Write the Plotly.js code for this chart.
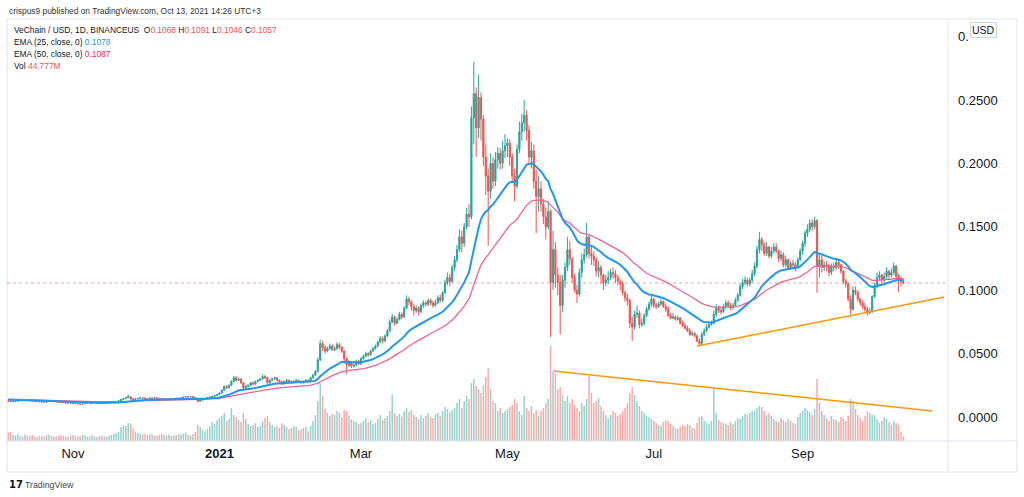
<!DOCTYPE html>
<html><head><meta charset="utf-8">
<script src="https://cdn.plot.ly/plotly-3.0.1.min.js"></script>
<style>html,body{margin:0;padding:0;background:#fff;}#chart{width:1024px;height:497px;}</style>
</head><body><div id="chart"></div>
<script>
// ---- data (VeChain / USD, 1D, daily from 2020-10-05 to 2021-10-13) ----
const startDate = '2020-10-05';
const firstOpen = 0.0126;
const close = [
 0.0124,0.0121,0.0123,0.0125,0.0128,0.0131,0.0130,0.0133,0.0131,0.0128,0.0126,0.0122,0.0123,0.0121,0.0119,0.0117,0.0121,0.0124,0.0122,0.0123,0.0120,0.0117,0.0115,0.0113,0.0110,0.0111,0.0108,
 0.0109,0.0107,0.0104,0.0102,0.0106,0.0110,0.0109,0.0108,0.0111,0.0112,0.0110,0.0109,0.0111,0.0109,0.0110,0.0113,0.0116,0.0118,0.0122,0.0128,0.0139,0.0145,0.0152,0.0160,0.0145,0.0138,0.0143,0.0147,0.0152,0.0150,
 0.0142,0.0144,0.0150,0.0148,0.0152,0.0149,0.0146,0.0141,0.0143,0.0140,0.0144,0.0146,0.0145,0.0149,0.0147,0.0151,0.0157,0.0160,0.0158,0.0161,0.0155,0.0147,0.0124,0.0133,0.0140,0.0146,0.0152,0.0158,0.0163,0.0170,0.0178,
 0.0190,0.0210,0.0240,0.0230,0.0250,0.0280,0.0310,0.0290,0.0300,0.0270,0.0230,0.0240,0.0250,0.0270,0.0260,0.0280,0.0290,0.0300,0.0320,0.0310,0.0270,0.0290,0.0300,0.0310,0.0290,0.0280,0.0260,0.0280,0.0290,0.0280,0.0270,
 0.0280,0.0290,0.0280,0.0270,0.0280,0.0290,0.0280,0.0310,0.0330,0.0360,0.0450,0.0580,0.0550,0.0520,0.0540,0.0560,0.0530,0.0540,0.0570,0.0550,0.0520,0.0460,0.0410,0.0430,0.0400,0.0410,0.0440,0.0420,
 0.0460,0.0480,0.0500,0.0490,0.0520,0.0540,0.0560,0.0590,0.0620,0.0600,0.0640,0.0680,0.0750,0.0790,0.0740,0.0770,0.0810,0.0790,0.0860,0.0930,0.0910,0.0870,0.0840,0.0860,0.0830,0.0880,0.0900,0.0890,0.0920,0.0900,0.0880,
 0.0900,0.0940,0.0920,0.0980,0.1060,0.1100,0.1070,0.1180,0.1240,0.1320,0.1420,0.1370,0.1500,0.1600,0.1580,0.2360,0.2550,0.2280,0.2520,0.2350,0.2050,0.1900,0.1780,0.2000,0.1860,0.2030,0.2080,0.2000,0.2100,0.2140,
 0.216,0.205,0.190,0.182,0.211,0.225,0.232,0.238,0.226,0.205,0.210,0.186,0.174,0.180,0.168,0.158,0.150,0.162,0.106,0.132,0.112,0.106,0.088,0.108,0.118,0.132,0.125,0.110,0.100,0.097,0.114,
 0.124,0.128,0.142,0.129,0.127,0.124,0.115,0.118,0.112,0.106,0.108,0.110,0.114,0.113,0.110,0.107,0.105,0.098,0.094,0.092,0.074,0.071,0.081,0.082,0.073,0.074,0.080,0.085,0.089,0.093,
 0.088,0.087,0.089,0.091,0.087,0.085,0.080,0.078,0.079,0.077,0.078,0.074,0.072,0.070,0.068,0.065,0.066,0.064,0.060,0.058,0.065,0.068,0.071,0.073,0.074,0.081,0.086,0.084,0.083,0.087,0.090,
 0.088,0.086,0.088,0.092,0.096,0.103,0.106,0.108,0.105,0.108,0.113,0.119,0.132,0.140,0.136,0.129,0.134,0.127,0.131,0.134,0.131,0.125,0.128,0.120,0.124,0.118,0.121,0.120,0.118,0.124,0.131,
 0.137,0.145,0.148,0.153,0.150,0.155,0.119,0.124,0.118,0.120,0.119,0.114,0.119,0.118,0.122,0.120,0.115,0.107,0.105,0.093,0.085,0.100,0.098,0.093,0.090,0.087,0.085,0.082,0.083,0.095,
 0.104,0.110,0.112,0.108,0.111,0.115,0.112,0.114,0.119,0.111,0.109,0.1068,0.1057
];
const high = [
 0.0128,0.0126,0.0125,0.0127,0.0130,0.0134,0.0133,0.0136,0.0135,0.0132,0.0129,0.0127,0.0125,0.0124,0.0122,0.0120,0.0123,0.0126,0.0125,0.0125,0.0124,0.0121,0.0118,0.0116,0.0114,0.0113,0.0112,
 0.0111,0.0111,0.0108,0.0105,0.0108,0.0112,0.0112,0.0111,0.0113,0.0115,0.0113,0.0112,0.0113,0.0112,0.0112,0.0115,0.0118,0.0121,0.0124,0.0131,0.0143,0.0150,0.0158,0.0178,0.0163,0.0148,0.0146,0.0150,0.0156,0.0155,
 0.0153,0.0147,0.0153,0.0152,0.0155,0.0154,0.0150,0.0148,0.0146,0.0145,0.0147,0.0149,0.0148,0.0151,0.0151,0.0153,0.0160,0.0166,0.0163,0.0165,0.0163,0.0158,0.0149,0.0138,0.0143,0.0149,0.0155,0.0162,0.0167,0.0175,0.0182,
 0.0195,0.0218,0.0248,0.0252,0.0258,0.0290,0.0325,0.0322,0.0310,0.0305,0.0275,0.0252,0.0258,0.0278,0.0280,0.0288,0.0298,0.0308,0.0335,0.0332,0.0318,0.0296,0.0308,0.0318,0.0315,0.0295,0.0285,0.0288,0.0298,0.0296,0.0288,
 0.0290,0.0298,0.0296,0.0288,0.0290,0.0298,0.0296,0.0318,0.0342,0.0372,0.0470,0.0610,0.0600,0.0565,0.0555,0.0580,0.0572,0.0558,0.0590,0.0585,0.0560,0.0525,0.0470,0.0450,0.0438,0.0425,0.0455,0.0450,
 0.0472,0.0495,0.0515,0.0512,0.0530,0.0552,0.0572,0.0602,0.0640,0.0635,0.0652,0.0695,0.0770,0.0815,0.0800,0.0785,0.0830,0.0825,0.0875,0.0960,0.0950,0.0920,0.0890,0.0880,0.0875,0.0895,0.0920,0.0915,0.0935,0.0935,0.0915,
 0.0925,0.0960,0.0965,0.0995,0.1080,0.1140,0.1130,0.1200,0.1270,0.1360,0.1480,0.1470,0.1530,0.1650,0.1680,0.2450,0.2800,0.2600,0.2700,0.2560,0.2380,0.2150,0.1960,0.2080,0.2050,0.2090,0.2130,0.2120,0.2180,0.2230,
 0.2200,0.2190,0.2080,0.1960,0.2150,0.2330,0.2390,0.2500,0.2420,0.2300,0.2170,0.2150,0.1950,0.1900,0.1860,0.1720,0.1650,0.1700,0.1640,0.1470,0.1380,0.1180,0.1120,0.1120,0.1220,0.1420,0.1390,0.1260,0.1130,0.1040,0.1170,
 0.1290,0.1330,0.1530,0.1440,0.1350,0.1310,0.1260,0.1230,0.1200,0.1130,0.1120,0.1150,0.1170,0.1180,0.1160,0.1120,0.1090,0.1070,0.1000,0.0970,0.0930,0.0790,0.0840,0.0880,0.0840,0.0780,0.0820,0.0870,0.0910,0.0960,
 0.0940,0.0900,0.0910,0.0930,0.0920,0.0890,0.0870,0.0820,0.0820,0.0800,0.0800,0.0790,0.0760,0.0740,0.0720,0.0700,0.0680,0.0670,0.0650,0.0620,0.0670,0.0700,0.0730,0.0750,0.0760,0.0840,0.0890,0.0880,0.0860,0.0890,0.0920,
 0.0920,0.0900,0.0900,0.0940,0.0980,0.1050,0.1090,0.1110,0.1100,0.1100,0.1160,0.1220,0.1350,0.1460,0.1420,0.1380,0.1380,0.1350,0.1340,0.1370,0.1370,0.1320,0.1310,0.1300,0.1270,0.1250,0.1230,0.1240,0.1220,0.1260,0.1330,
 0.1390,0.1470,0.1520,0.1560,0.1560,0.1580,0.1560,0.1280,0.1270,0.1230,0.1230,0.1210,0.1210,0.1220,0.1240,0.1240,0.1210,0.1160,0.1090,0.1060,0.0960,0.1030,0.1030,0.1000,0.0940,0.0920,0.0900,0.0870,0.0860,0.0960,
 0.1060,0.1140,0.1150,0.1130,0.1140,0.1180,0.1160,0.1170,0.1220,0.1200,0.1130,0.1110,0.1091
];
const low = [
 0.0121,0.0119,0.0120,0.0122,0.0124,0.0127,0.0128,0.0129,0.0129,0.0126,0.0124,0.0120,0.0120,0.0119,0.0117,0.0115,0.0116,0.0120,0.0120,0.0121,0.0118,0.0115,0.0113,0.0111,0.0107,0.0108,0.0105,
 0.0106,0.0105,0.0101,0.0099,0.0101,0.0105,0.0107,0.0106,0.0107,0.0110,0.0108,0.0107,0.0108,0.0107,0.0108,0.0109,0.0112,0.0115,0.0117,0.0121,0.0127,0.0136,0.0141,0.0149,0.0136,0.0128,0.0135,0.0140,0.0145,0.0146,
 0.0138,0.0139,0.0142,0.0144,0.0146,0.0146,0.0143,0.0138,0.0139,0.0137,0.0139,0.0142,0.0142,0.0143,0.0145,0.0146,0.0149,0.0155,0.0154,0.0156,0.0152,0.0143,0.0118,0.0121,0.0130,0.0138,0.0144,0.0150,0.0156,0.0161,0.0168,
 0.0172,0.0185,0.0205,0.0220,0.0225,0.0245,0.0272,0.0280,0.0282,0.0262,0.0205,0.0222,0.0232,0.0245,0.0252,0.0255,0.0275,0.0282,0.0295,0.0300,0.0262,0.0262,0.0282,0.0295,0.0282,0.0272,0.0252,0.0255,0.0272,0.0275,0.0262,
 0.0265,0.0272,0.0274,0.0262,0.0266,0.0276,0.0274,0.0276,0.0302,0.0325,0.0350,0.0440,0.0520,0.0500,0.0510,0.0530,0.0520,0.0520,0.0530,0.0535,0.0505,0.0420,0.0340,0.0390,0.0385,0.0390,0.0400,0.0410,
 0.0410,0.0452,0.0470,0.0475,0.0482,0.0515,0.0530,0.0550,0.0580,0.0580,0.0590,0.0630,0.0670,0.0740,0.0720,0.0730,0.0760,0.0770,0.0780,0.0850,0.0880,0.0840,0.0800,0.0820,0.0800,0.0820,0.0860,0.0870,0.0875,0.0880,0.0860,
 0.0870,0.0890,0.0900,0.0905,0.0970,0.1040,0.1030,0.1060,0.1150,0.1220,0.1300,0.1300,0.1340,0.1480,0.1500,0.1560,0.2150,0.2050,0.2200,0.2180,0.1980,0.1750,0.1350,0.1720,0.1800,0.1820,0.1960,0.1950,0.1960,0.2040,
 0.2050,0.1980,0.1850,0.1700,0.1800,0.2080,0.2180,0.2250,0.2180,0.2000,0.1960,0.1800,0.1450,0.1620,0.1620,0.1520,0.1400,0.1480,0.0630,0.1000,0.1020,0.0960,0.0650,0.0830,0.1020,0.1150,0.1200,0.1060,0.0980,0.0900,0.0950,
 0.1100,0.1210,0.1260,0.1250,0.1200,0.1190,0.1110,0.1100,0.1050,0.1000,0.1030,0.1050,0.1080,0.1090,0.1060,0.1040,0.1000,0.0960,0.0910,0.0880,0.0700,0.0600,0.0690,0.0780,0.0700,0.0710,0.0720,0.0790,0.0840,0.0870,
 0.0860,0.0850,0.0860,0.0880,0.0860,0.0830,0.0790,0.0770,0.0770,0.0760,0.0760,0.0730,0.0710,0.0690,0.0670,0.0640,0.0640,0.0630,0.0590,0.0560,0.0570,0.0640,0.0670,0.0700,0.0720,0.0730,0.0790,0.0820,0.0810,0.0820,0.0850,
 0.0860,0.0840,0.0850,0.0870,0.0910,0.0950,0.1010,0.1040,0.1030,0.1030,0.1060,0.1110,0.1170,0.1290,0.1310,0.1270,0.1270,0.1250,0.1250,0.1290,0.1290,0.1220,0.1230,0.1180,0.1180,0.1160,0.1160,0.1170,0.1150,0.1170,0.1230,
 0.1280,0.1340,0.1420,0.1460,0.1470,0.1480,0.0980,0.1100,0.1140,0.1150,0.1150,0.1110,0.1120,0.1150,0.1160,0.1170,0.1130,0.1050,0.1020,0.0910,0.0810,0.0840,0.0960,0.0910,0.0880,0.0850,0.0830,0.0800,0.0810,0.0820,
 0.0940,0.1020,0.1080,0.1050,0.1060,0.1090,0.1090,0.1100,0.1120,0.1090,0.0985,0.1030,0.1046
];
// volume in millions
const volume = [
 85,90,60,55,70,50,45,65,55,50,60,45,40,55,50,45,60,65,50,40,45,55,60,50,45,40,55,
 60,55,45,50,65,55,45,50,60,45,40,50,55,45,40,50,60,70,80,90,140,160,150,180,175,120,95,80,70,65,
 75,60,70,65,55,50,60,70,60,55,65,50,55,60,70,65,75,85,60,55,70,90,160,140,110,95,120,150,190,170,210,
 230,250,280,200,220,330,260,240,210,190,280,220,170,150,160,180,140,150,200,230,250,190,160,140,150,130,180,160,140,120,130,
 150,140,110,120,130,140,100,150,200,260,400,580,450,320,280,250,270,260,300,280,240,310,300,250,220,200,190,170,
 180,200,230,190,210,170,180,220,260,210,230,250,300,460,280,250,270,240,300,330,290,310,260,240,220,260,230,250,280,240,230,
 260,280,250,300,340,320,290,310,330,380,420,330,400,450,420,580,620,550,520,480,560,640,730,520,400,380,300,330,280,300,
 320,340,360,420,380,300,260,450,330,300,350,280,310,250,300,330,380,420,950,690,680,520,540,460,400,450,380,420,360,330,300,
 380,350,420,650,480,380,400,430,350,300,260,230,260,300,280,250,270,300,330,380,480,540,460,400,350,300,280,250,240,220,
 200,180,160,150,190,210,200,170,150,130,120,140,160,150,170,160,130,120,180,240,250,200,180,170,200,530,280,210,190,180,170,
 160,190,170,200,230,220,250,270,260,280,300,310,330,350,340,300,260,280,250,220,200,190,230,210,190,220,200,180,170,240,280,
 300,330,310,290,260,320,620,380,300,260,230,200,250,220,210,190,240,230,200,250,420,400,320,260,230,200,250,300,280,260,
 260,220,180,200,240,220,190,160,200,180,160,90,44.777
];
const ema25Seed = 0.0137;
const ema50Seed = 0.0141;
const xTickDates = ['2020-11-01','2021-01-01','2021-03-01','2021-05-01','2021-07-01','2021-09-01'];
const xTickText = ['Nov','<b>2021</b>','Mar','May','Jul','Sep'];
const yTickVals = [0, 0.05, 0.1, 0.15, 0.2, 0.25, 0.3];
// the 0.3000 label is mostly hidden by the "USD" badge in the reference: only "0." shows
const yTickText = ['0.0000','0.0500','0.1000','0.1500','0.2000','0.2500','0.'];
const supportLineX = ['2021-07-19', '2021-10-30'];
const supportLineY = [0.0560, 0.0946];
const volumeLineX = ['2021-05-20', '2021-10-25'];
const volumeLineY = [0.0363, 0.0047];
const lastPrice = 0.1057;

// ---- build ----
const N = close.length;
[high, low, volume].forEach((a, k) => { if (a.length !== N) throw new Error('length mismatch ' + k + ': ' + a.length + ' vs ' + N); });
if (N !== 374) throw new Error('close length ' + N);
const dates = [];
const d0 = new Date(startDate + 'T00:00:00Z');
for (let i = 0; i < N; i++) {
  const d = new Date(d0.getTime() + i * 86400000);
  dates.push(d.toISOString().slice(0, 10));
}
const open = close.map((c, i) => i === 0 ? firstOpen : close[i - 1]);
const hi = high.map((h, i) => Math.max(h, open[i], close[i]));
const lo = low.map((l, i) => Math.min(l, open[i], close[i]));
function ema(src, n, seed) { const k = 2 / (n + 1); let e = seed; return src.map(v => (e = v * k + e * (1 - k))); }
const ema25 = ema(close, 25, ema25Seed);
const ema50 = ema(close, 50, ema50Seed);
const UP = '#26a69a', DOWN = '#ef5350';
const volColors = close.map((c, i) => c >= open[i] ? 'rgba(38,166,154,0.5)' : 'rgba(239,83,80,0.5)');

const traces = [
  {type: 'bar', x: dates, y: volume, yaxis: 'y', xaxis: 'x', marker: {color: volColors, line: {width: 0}}, width: 0.62 * 86400000, hoverinfo: 'skip'},
  {type: 'candlestick', x: dates, open: open, high: hi, low: lo, close: close, yaxis: 'y2', xaxis: 'x',
   increasing: {line: {color: UP, width: 1}, fillcolor: UP}, decreasing: {line: {color: DOWN, width: 1}, fillcolor: DOWN},
   whiskerwidth: 0, hoverinfo: 'skip'},
  {type: 'scatter', mode: 'lines', x: dates, y: ema50, yaxis: 'y2', line: {color: '#f06292', width: 1.3}, hoverinfo: 'skip'},
  {type: 'scatter', mode: 'lines', x: dates, y: ema25, yaxis: 'y2', line: {color: '#2196f3', width: 2}, hoverinfo: 'skip'}
];

const L = 7, T = 20, W = 941, H = 421;
const px = v => (v - L) / W;
const py = v => (T + H - v) / H;
const frame = '#e0e3eb';
const FONT = 'Liberation Sans, Arial, sans-serif';
const red = '#ef5350', blue = '#2196f3', pink = '#e91e63', ink = '#131722';
const sp = (c, t) => '<span style="color:' + c + '">' + t + '</span>';

const layout = {
  width: 1024, height: 497,
  margin: {l: L, r: 1024 - L - W, t: T, b: 497 - T - H, pad: 0},
  paper_bgcolor: '#ffffff', plot_bgcolor: '#ffffff',
  showlegend: false,
  font: {family: FONT, color: ink, size: 12},
  xaxis: {type: 'date', range: ['2020-10-04 12:00', '2021-10-31 14:00'], rangeslider: {visible: false},
          showgrid: false, zeroline: false, showline: false, ticks: '',
          tickmode: 'array', tickvals: xTickDates, ticktext: xTickText,
          tickfont: {size: 13, color: ink, family: FONT}, ticklabelstandoff: 3, fixedrange: true},
  yaxis: {range: [0, 4210], visible: false, fixedrange: true},
  yaxis2: {overlaying: 'y', side: 'right', range: [-0.0189, 0.3131],
           tickmode: 'array', tickvals: yTickVals, ticktext: yTickText,
           showgrid: false, zeroline: false, showline: false, ticks: '',
           tickfont: {size: 13, color: ink, family: FONT}, ticklabelstandoff: 9, fixedrange: true},
  shapes: [
    {type: 'rect', xref: 'paper', yref: 'paper', x0: 0, x1: px(1017), y0: py(472), y1: py(19), line: {color: frame, width: 1}},
    {type: 'line', xref: 'paper', yref: 'paper', x0: 1, x1: 1, y0: py(472), y1: py(19), line: {color: frame, width: 1}},
    {type: 'line', xref: 'paper', yref: 'paper', x0: 0, x1: px(1017), y0: 0, y1: 0, line: {color: frame, width: 1}},
    {type: 'line', xref: 'paper', yref: 'y2', x0: 0, x1: 1, y0: lastPrice, y1: lastPrice, line: {color: 'rgba(239,83,80,0.55)', width: 1, dash: 'dot'}},
    {type: 'line', xref: 'x', yref: 'y2', x0: supportLineX[0], x1: supportLineX[1], y0: supportLineY[0], y1: supportLineY[1], line: {color: '#ff9800', width: 1.5}},
    {type: 'line', xref: 'x', yref: 'y2', x0: volumeLineX[0], x1: volumeLineX[1], y0: volumeLineY[0], y1: volumeLineY[1], line: {color: '#ff9800', width: 1.5}}
  ],
  annotations: [
    {xref: 'paper', yref: 'paper', x: px(7), y: py(11), xanchor: 'left', yanchor: 'middle', showarrow: false,
     text: 'crispus9 published on TradingView.com, Oct 13, 2021 14:26 UTC+3', font: {size: 8.4, color: '#333333', family: FONT}},
    {xref: 'paper', yref: 'paper', x: px(12), y: py(30), xanchor: 'left', yanchor: 'middle', showarrow: false,
     text: 'VeChain / USD, 1D, BINANCEUS  O' + sp(red, '0.1068') + ' H' + sp(red, '0.1091') + ' L' + sp(red, '0.1046') + ' C' + sp(red, '0.1057'),
     font: {size: 8.4, color: ink, family: FONT}},
    {xref: 'paper', yref: 'paper', x: px(12), y: py(42), xanchor: 'left', yanchor: 'middle', showarrow: false,
     text: 'EMA (25, close, 0) ' + sp(blue, '0.1078'), font: {size: 8.4, color: ink, family: FONT}},
    {xref: 'paper', yref: 'paper', x: px(12), y: py(53.5), xanchor: 'left', yanchor: 'middle', showarrow: false,
     text: 'EMA (50, close, 0) ' + sp(pink, '0.1087'), font: {size: 8.4, color: ink, family: FONT}},
    {xref: 'paper', yref: 'paper', x: px(12), y: py(65.5), xanchor: 'left', yanchor: 'middle', showarrow: false,
     text: 'Vol ' + sp(red, '44.777M'), font: {size: 8.4, color: ink, family: FONT}},
    {xref: 'paper', yref: 'paper', x: px(983.5), y: py(30.5), xanchor: 'center', yanchor: 'middle', showarrow: false,
     text: 'USD', font: {size: 10.5, color: ink, family: FONT}, bgcolor: '#ffffff', bordercolor: '#d1d4dc', borderwidth: 1, borderpad: 1},
    {xref: 'paper', yref: 'paper', x: px(7), y: py(485), xanchor: 'left', yanchor: 'middle', showarrow: false,
     text: '<b>17</b>', font: {size: 10, color: ink, family: 'DejaVu Sans, sans-serif'}},
    {xref: 'paper', yref: 'paper', x: px(23), y: py(485), xanchor: 'left', yanchor: 'middle', showarrow: false,
     text: 'TradingView', font: {size: 8.8, color: '#434651', family: FONT}}
  ]
};

Plotly.newPlot('chart', traces, layout, {staticPlot: true, displayModeBar: false});
</script>
</body></html>
